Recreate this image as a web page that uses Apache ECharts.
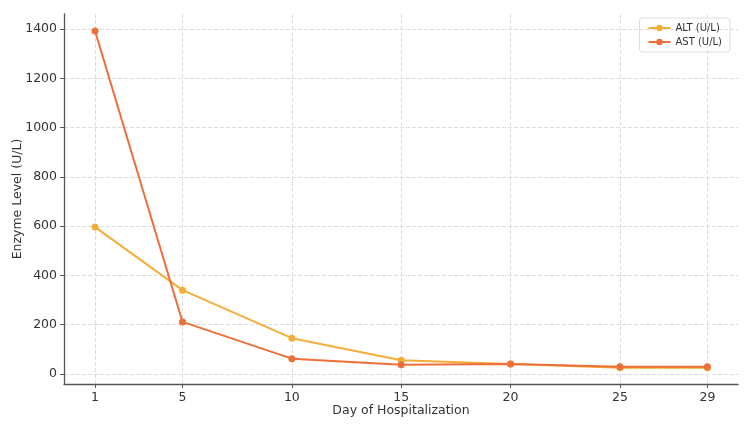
<!DOCTYPE html>
<html><head><meta charset="utf-8">
<script src="https://cdn.jsdelivr.net/npm/echarts@6/dist/echarts.min.js"></script>
<style>html,body{margin:0;padding:0;background:#fff}#c{width:750px;height:428px}</style>
</head><body><div id="c"></div>
<script>
const days = [1, 5, 10, 15, 20, 25, 29];
const alt = [596, 340, 145, 55, 40, 25, 25];
const ast = [1392, 211, 62, 37, 40, 29, 29];
const xTicks = [1, 5, 10, 15, 20, 25, 29];
const yTicks = [0, 200, 400, 600, 800, 1000, 1200, 1400];

const chart = echarts.init(document.getElementById('c'));
const font = 'DejaVu Sans';
chart.setOption({
  animation: false,
  grid: {left: 64, right: 12, top: 14, bottom: 44, containLabel: false, outerBoundsMode: 'none'},
  legend: {
    top: 18, right: 20, orient: 'vertical', itemGap: 4,
    itemWidth: 22, itemHeight: 8,
    textStyle: {fontFamily: font, fontSize: 10, color: '#333'},
    borderColor: '#ddd', borderWidth: 1, borderRadius: 3, padding: [5, 8],
    data: ['ALT (U/L)', 'AST (U/L)']
  },
  xAxis: {
    type: 'value', min: -0.42, max: 30.4,
    name: 'Day of Hospitalization', nameLocation: 'middle', nameGap: 20, nameMoveOverlap: false,
    nameTextStyle: {fontFamily: font, fontSize: 12.5, color: '#333'},
    axisLine: {onZero: false, lineStyle: {color: '#555', width: 1.3}},
    axisTick: {show: true, customValues: xTicks, length: 4, lineStyle: {color: '#555'}},
    axisLabel: {customValues: xTicks, formatter: v => String(v), fontFamily: font, fontSize: 12.5, color: '#333', margin: 7},
    splitLine: {show: true, lineStyle: {color: '#ddd', type: 'dashed'}}
  },
  yAxis: {
    type: 'value', min: -41, max: 1461,
    name: 'Enzyme Level (U/L)', nameLocation: 'middle', nameGap: 40, nameMoveOverlap: false,
    nameTextStyle: {fontFamily: font, fontSize: 12.5, color: '#333'},
    axisLine: {show: true, onZero: false, lineStyle: {color: '#555', width: 1.3}},
    axisTick: {show: true, customValues: yTicks, length: 4, lineStyle: {color: '#555'}},
    axisLabel: {customValues: yTicks, formatter: v => String(v), fontFamily: font, fontSize: 12.5, color: '#333', margin: 7},
    splitLine: {show: true, lineStyle: {color: '#ddd', type: 'dashed'}}
  },
  series: [
    {name: 'ALT (U/L)', type: 'line', data: days.map((d, i) => [d, alt[i]]),
     symbol: 'circle', symbolSize: 7, itemStyle: {color: '#f5ad3a'}, lineStyle: {width: 2, color: '#f5ad3a'}},
    {name: 'AST (U/L)', type: 'line', data: days.map((d, i) => [d, ast[i]]),
     symbol: 'circle', symbolSize: 7, itemStyle: {color: '#ec6f3a'}, lineStyle: {width: 2, color: '#ec6f3a'}}
  ]
});
</script></body></html>
